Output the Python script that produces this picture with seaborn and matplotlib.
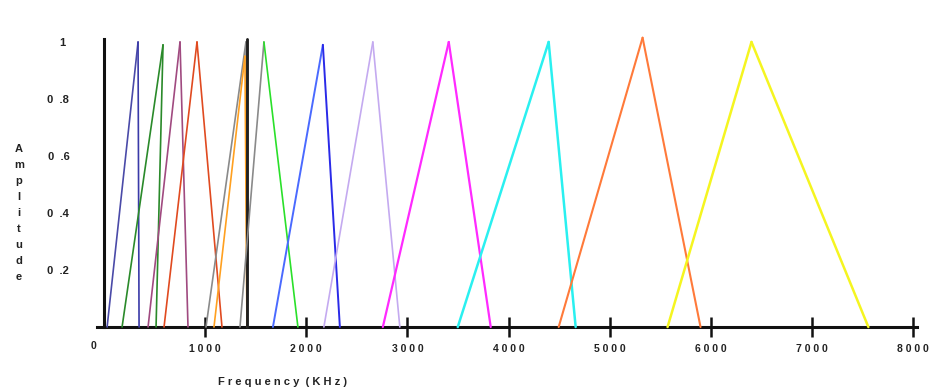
import matplotlib
matplotlib.use("Agg")
import matplotlib.pyplot as plt
import seaborn as sns
import pandas as pd

# ---- data ----
filter_ids   = ["navy", "dkgreen", "purple", "red", "gray", "orange1", "black",
                "lime", "blue", "lavender", "magenta", "cyan", "orange2", "yellow"]
starts  = [30, 178, 435, 593, 1008, 1087, 1413, 1344, 1670, 2174, 2757, 3498, 4496, 5573]
peaks   = [336, 583, 751, 919, 1403, 1393, 1413, 1581, 2164, 2658, 3409, 4397, 5326, 6403]
ends    = [346, 514, 830, 1166, 1413, 1413, 1413, 1917, 2332, 2925, 3824, 4664, 5899, 7559]
heights = [1.0, 0.99, 1.0, 1.0, 1.0, 0.95, 1.01, 1.0, 0.99, 1.0, 1.0, 1.0, 1.015, 1.0]
rise_colors = ["#4a4aa8", "#2a8a2a", "#a04a80", "#e04a20", "#8a8a8a", "#ffa020", "#202020",
               "#8a8a8a", "#4a6aff", "#c4aaf0", "#ff2aff", "#2af0f0", "#ff7a3a", "#f5f520"]
fall_colors = ["#3a3aa8", "#2a8a2a", "#a04a80", "#e04a20", "#8a8a8a", "#ffa020", "#202020",
               "#2ae02a", "#2a2ae8", "#c4aaf0", "#ff2aff", "#2af0f0", "#ff7a3a", "#f5f520"]
line_widths = [1.2, 1.2, 1.2, 1.2, 1.2, 1.2, 1.8, 1.2, 1.4, 1.2, 1.6, 1.8, 1.5, 1.8]

xtick_values = [1000, 2000, 3000, 4000, 5000, 6000, 7000, 8000]
xtick_labels = ["1 0 0 0", "2 0 0 0", "3 0 0 0", "4 0 0 0", "5 0 0 0", "6 0 0 0", "7 0 0 0", "8 0 0 0"]
ytick_values = [0.2, 0.4, 0.6, 0.8, 1.0]
ytick_labels = ["0  .2", "0  .4", "0  .6", "0  .8", "1 "]

# ---- build long table of segments ----
rows = []
for i, fid in enumerate(filter_ids):
    rows.append(dict(seg=f"{fid}_rise", order=0, freq=starts[i], amp=0.0))
    rows.append(dict(seg=f"{fid}_rise", order=1, freq=peaks[i], amp=heights[i]))
    rows.append(dict(seg=f"{fid}_fall", order=0, freq=peaks[i], amp=heights[i]))
    rows.append(dict(seg=f"{fid}_fall", order=1, freq=ends[i], amp=0.0))
df = pd.DataFrame(rows)

sns.set_style("white")
plt.rcParams["font.family"] = ["Liberation Sans", "DejaVu Sans"]

fig = plt.figure(figsize=(9.42, 3.92), dpi=100)
ax = fig.add_axes([97 / 942, 65 / 392, 820 / 942, 290.7 / 392])

for i, fid in enumerate(filter_ids):
    for part, col in (("rise", rise_colors[i]), ("fall", fall_colors[i])):
        d = df[df.seg == f"{fid}_{part}"]
        sns.lineplot(data=d, x="freq", y="amp", color=col, lw=line_widths[i],
                     sort=False, estimator=None, ax=ax, legend=False,
                     clip_on=False, zorder=3)

ax.set_xlim(-70, 8040)
ax.set_ylim(0, 1.02)

for s in ("top", "right"):
    ax.spines[s].set_visible(False)
ax.spines["bottom"].set_linewidth(2.2)
ax.spines["bottom"].set_color("#111111")
ax.spines["left"].set_position(("data", 0))
ax.spines["left"].set_bounds(0, 1.01)
ax.spines["left"].set_linewidth(2.2)
ax.spines["left"].set_color("#111111")
ax.spines["left"].set_zorder(4)

ax.set_xticks(xtick_values)
ax.set_xticklabels(xtick_labels, fontsize=7.5, fontweight="bold", color="#222222")
ax.tick_params(axis="x", bottom=True, direction="inout", length=14, width=1.8,
               color="#111111", pad=5)
ax.set_yticks(ytick_values)
ax.set_yticklabels(ytick_labels, fontsize=8, fontweight="bold", color="#222222")
ax.tick_params(axis="y", left=False, length=0, pad=25)
ax.set_xlabel("")
ax.set_ylabel("")

ax.annotate("0", xy=(0, 0), xytext=(-11, -19), textcoords="offset pixels",
            ha="center", va="center", fontsize=7.5, fontweight="bold", color="#222222")

fig.text(283 / 942, 1 - 382 / 392, "F r e q u e n c y  ( K H z )", ha="center", va="center",
         fontsize=8, fontweight="bold", color="#222222")
fig.text(19 / 942, 1 - 213 / 392, "\n".join("Amplitude"), ha="center", va="center",
         fontsize=8, fontweight="bold", color="#222222", linespacing=1.75)

fig.savefig("out.png", dpi=100)
